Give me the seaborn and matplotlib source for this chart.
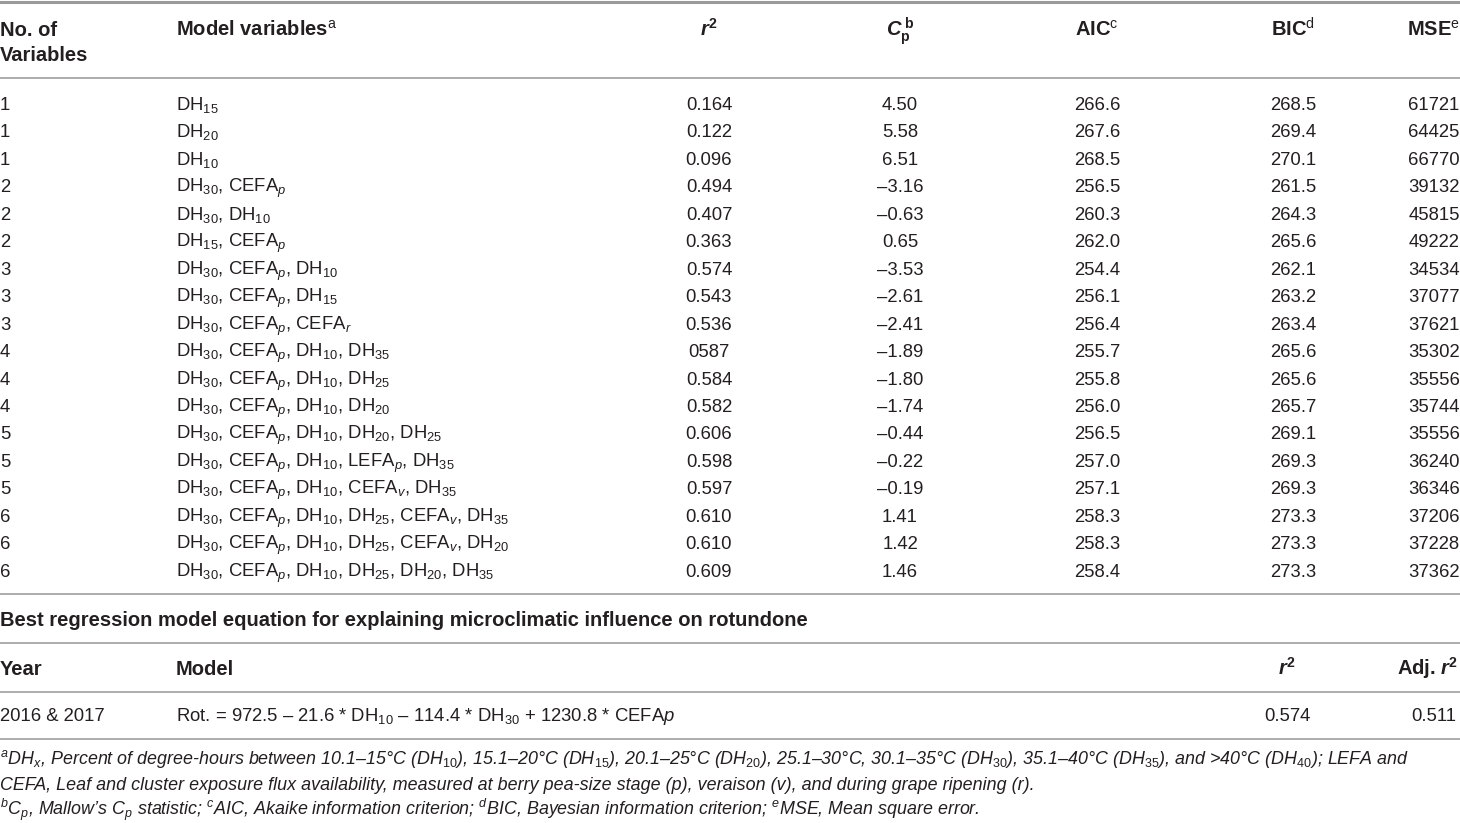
import matplotlib
matplotlib.use("Agg")
import matplotlib.pyplot as plt
import seaborn as sns
import pandas as pd

# table values
n_vars = [1, 1, 1, 2, 2, 2, 3, 3, 3, 4, 4, 4, 5, 5, 5, 6, 6, 6]
model_vars = [
    r"DH$_{15}$",
    r"DH$_{20}$",
    r"DH$_{10}$",
    r"DH$_{30}$, CEFA$_{p}$",
    r"DH$_{30}$, DH$_{10}$",
    r"DH$_{15}$, CEFA$_{p}$",
    r"DH$_{30}$, CEFA$_{p}$, DH$_{10}$",
    r"DH$_{30}$, CEFA$_{p}$, DH$_{15}$",
    r"DH$_{30}$, CEFA$_{p}$, CEFA$_{r}$",
    r"DH$_{30}$, CEFA$_{p}$, DH$_{10}$, DH$_{35}$",
    r"DH$_{30}$, CEFA$_{p}$, DH$_{10}$, DH$_{25}$",
    r"DH$_{30}$, CEFA$_{p}$, DH$_{10}$, DH$_{20}$",
    r"DH$_{30}$, CEFA$_{p}$, DH$_{10}$, DH$_{20}$, DH$_{25}$",
    r"DH$_{30}$, CEFA$_{p}$, DH$_{10}$, LEFA$_{p}$, DH$_{35}$",
    r"DH$_{30}$, CEFA$_{p}$, DH$_{10}$, CEFA$_{v}$, DH$_{35}$",
    r"DH$_{30}$, CEFA$_{p}$, DH$_{10}$, DH$_{25}$, CEFA$_{v}$, DH$_{35}$",
    r"DH$_{30}$, CEFA$_{p}$, DH$_{10}$, DH$_{25}$, CEFA$_{v}$, DH$_{20}$",
    r"DH$_{30}$, CEFA$_{p}$, DH$_{10}$, DH$_{25}$, DH$_{20}$, DH$_{35}$",
]
r2 = ["0.164", "0.122", "0.096", "0.494", "0.407", "0.363", "0.574", "0.543", "0.536",
      "0587", "0.584", "0.582", "0.606", "0.598", "0.597", "0.610", "0.610", "0.609"]
cp = [4.50, 5.58, 6.51, -3.16, -0.63, 0.65, -3.53, -2.61, -2.41,
      -1.89, -1.80, -1.74, -0.44, -0.22, -0.19, 1.41, 1.42, 1.46]
aic = [266.6, 267.6, 268.5, 256.5, 260.3, 262.0, 254.4, 256.1, 256.4,
       255.7, 255.8, 256.0, 256.5, 257.0, 257.1, 258.3, 258.3, 258.4]
bic = [268.5, 269.4, 270.1, 261.5, 264.3, 265.6, 262.1, 263.2, 263.4,
       265.6, 265.6, 265.7, 269.1, 269.3, 269.3, 273.3, 273.3, 273.3]
mse = [61721, 64425, 66770, 39132, 45815, 49222, 34534, 37077, 37621,
       35302, 35556, 35744, 35556, 36240, 36346, 37206, 37228, 37362]

best_year = "2016 & 2017"
best_model = r"Rot. = 972.5 – 21.6 * DH$_{10}$ – 114.4 * DH$_{30}$ + 1230.8 * CEFA$p$"
best_r2 = "0.574"
best_adj_r2 = "0.511"

footnotes = [
    r"$^{a}$DH$_{x}$, Percent of degree-hours between 10.1–15°C (DH$_{10}$), 15.1–20°C (DH$_{15}$), "
    r"20.1–25°C (DH$_{20}$), 25.1–30°C, 30.1–35°C (DH$_{30}$), 35.1–40°C (DH$_{35}$), and >40°C (DH$_{40}$); LEFA and",
    "CEFA, Leaf and cluster exposure flux availability, measured at berry pea-size stage (p), veraison (v), "
    "and during grape ripening (r).",
    r"$^{b}$C$_{p}$, Mallow’s C$_{p}$ statistic; $^{c}$AIC, Akaike information criterion; "
    r"$^{d}$BIC, Bayesian information criterion; $^{e}$MSE, Mean square error.",
]

df = pd.DataFrame({
    "n": n_vars, "model": model_vars, "r2": r2,
    "cp": [f"{v:.2f}".replace("-", "–") for v in cp],
    "aic": [f"{v:.1f}" for v in aic],
    "bic": [f"{v:.1f}" for v in bic],
    "mse": [str(v) for v in mse],
})

sns.set_theme(style="white")
plt.rcParams["font.family"] = ["Liberation Sans", "DejaVu Sans"]
plt.rcParams["mathtext.fontset"] = "custom"
plt.rcParams["mathtext.rm"] = "Liberation Sans"
plt.rcParams["mathtext.it"] = "Liberation Sans:italic"
plt.rcParams["mathtext.bf"] = "Liberation Sans:bold"
plt.rcParams["mathtext.bfit"] = "Liberation Sans:italic:bold"

txt = "#231f20"
rule = "#a6a6a6"
fs = 13.3
fs_head = 14.5
fs_note = 12.9

fig = plt.figure(figsize=(14.6, 8.23), dpi=100)
ax = fig.add_axes([0, 0, 1, 1])
ax.set_xlim(0, 1460)
ax.set_ylim(823, 0)
ax.axis("off")

# column positions
x_n, x_model = 0, 176
num_cols = [("r2", 709), ("cp", 900), ("aic", 1097), ("bic", 1293), ("mse", 1434)]

# rules
ax.axhline(1.5, color="#9a9a9a", lw=2.2)
for y in [78, 594, 643, 692, 739]:
    ax.axhline(y, color=rule, lw=1.3)

# header
hk = dict(fontsize=fs_head, color=txt, fontweight="bold", va="baseline")
ax.text(x_n, 36, "No. of", ha="left", **hk)
ax.text(x_n, 61, "Variables", ha="left", **hk)
ax.text(x_model, 36, r"Model variables$^{\rm a}$", ha="left", **hk)
headers = [r"$\mathbfit{r}^{\mathbf{2}}$", r"$\mathbfit{C}_{\mathbf{p}}^{\ \mathbf{b}}$",
           r"AIC$^{\rm c}$", r"BIC$^{\rm d}$", r"MSE$^{\rm e}$"]
for (col, xc), h in zip(num_cols, headers):
    ax.text(xc, 36, h, ha="center", **hk)

# body rows
bk = dict(fontsize=fs, color=txt, va="baseline")
y0, dy = 110, 27.45
for i, row in df.iterrows():
    y = y0 + i * dy
    ax.text(x_n, y, str(row["n"]), ha="left", **bk)
    ax.text(x_model, y, row["model"], ha="left", **bk)
    for col, xc in num_cols:
        ax.text(xc, y, row[col], ha="center", **bk)

# best model block
ax.text(x_n, 626, "Best regression model equation for explaining microclimatic influence on rotundone",
        ha="left", **hk)
ax.text(x_n, 675, "Year", ha="left", **hk)
ax.text(x_model, 675, "Model", ha="left", **hk)
ax.text(1287, 675, r"$\mathbfit{r}^{\mathbf{2}}$", ha="center", **hk)
ax.text(1458, 675, r"Adj. $\mathbfit{r}^{\mathbf{2}}$", ha="right", **hk)
ax.text(x_n, 721, best_year, ha="left", **bk)
ax.text(x_model, 721, best_model, ha="left", **bk)
ax.text(1287, 721, best_r2, ha="center", **bk)
ax.text(1434, 721, best_adj_r2, ha="center", **bk)

# footnotes
for j, note in enumerate(footnotes):
    ax.text(x_n, 764 + j * 25.5, note, ha="left", va="baseline", fontsize=fs_note,
            color=txt, fontstyle="italic")

fig.savefig("out.png", dpi=100)
